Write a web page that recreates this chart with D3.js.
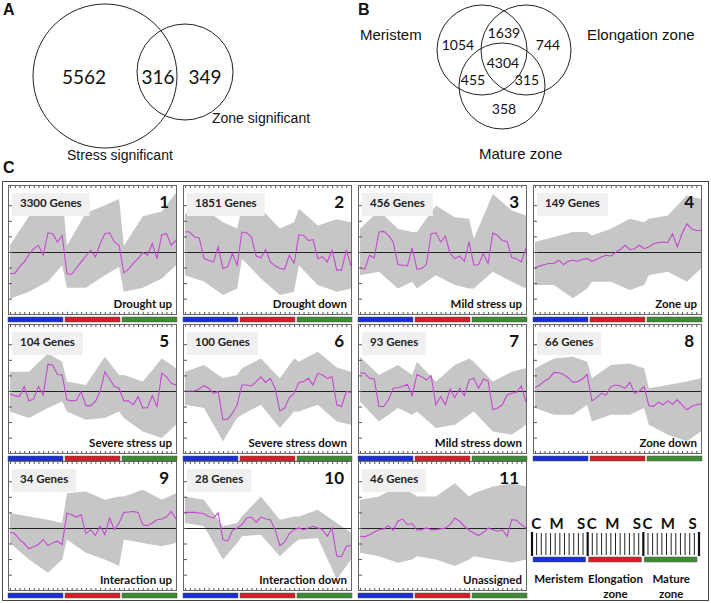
<!DOCTYPE html>
<html><head><meta charset="utf-8">
<script src="https://cdn.jsdelivr.net/npm/d3@7"></script>
<style>body{margin:0;background:#fff}</style>
</head><body>
<svg id="chart" width="711" height="603"></svg>
<script>
// ---------------- DATA ----------------
const vennAValues = [5562, 316, 349];
const vennALabels = ["Stress significant", "Zone significant"];
const vennBValues = {meristemOnly:1054, meriElong:1639, elongOnly:744, all:4304, meriMature:455, elongMature:315, matureOnly:358};
const vennBLabels = ["Meristem", "Elongation zone", "Mature zone"];

const panelNames = ["Drought up","Drought down","Mild stress up","Zone up","Severe stress up","Severe stress down","Mild stress down","Zone down","Interaction up","Interaction down","Unassigned"];
const geneCounts = [3300,1851,456,149,104,100,93,66,34,28,46];
const zones = ["Meristem","Elongation zone","Mature zone"];
const zoneColors = ["#1b2fd0","#d01f26","#3f8a35"];
const treatments = ["C","M","S"];
const samplesPerZone = 12;
const yTickValues = [-3,-2,-1,0,1,2,3];

// mean profile (magenta) of each cluster, 36 samples
const meanProfiles = [
 [-1.38,-1.38,-0.96,-0.64,-0.17,0.21,0.43,-0.21,1.23,1.17,0.64,1.06, -1.38,-1.43,-1.02,-0.64,-0.26,0.11,-0.32,0.53,1.17,1.23,0.64,0.43, -1.34,-1.1,-0.74,-0.43,-0.04,-0.21,0.53,-0.43,1.1,1.17,0.43,0.74],
 [1.3,1.28,0.96,0.9,-0.43,-0.53,-0.64,0.32,-1.06,-0.96,-0.1,-0.85, 1.28,1.23,0.96,-0.26,-0.38,0.15,-0.64,-0.89,-1.06,-1.1,-0.21,-0.74, 1.1,1.06,0.74,0.79,-0.43,-0.32,-0.64,0.11,-1.17,-1.17,0.11,-0.89],
 [-1.02,-1.1,-0.21,-0.38,1.28,1.32,1.06,0.64,-0.81,-0.85,-0.89,0.26, -1.1,-1.06,-0.81,1.17,1.23,0.64,1.02,-0.1,-0.43,-0.26,-0.6,0.64, -0.85,-0.81,-0.1,-0.74,1.23,1.06,0.74,0.68,-0.36,-0.43,-0.64,0.26],
 [-1.02,-0.91,-0.81,-0.74,-0.74,-0.53,-0.81,-0.6,-0.53,-0.6,-0.47,-0.43, -0.6,-0.49,-0.32,-0.21,-0.26,-0.04,0.17,0.43,0.15,0.21,0.43,0.21, 0.32,0.53,0.6,0.64,0.6,1.17,0.32,1.17,1.81,1.49,1.38,1.38],
 [-0.21,-0.3,-0.36,0.28,-0.64,-0.51,0.28,-0.26,1.72,1.66,1.06,1.02, -0.57,-0.64,-0.6,-0.04,-0.94,-0.94,-0.68,-0.04,1.23,0.77,0.28,0.17, -0.64,-0.64,-0.89,-0.36,-1.1,-1.06,-0.3,-1.0,1.13,0.91,0.49,0.38],
 [0,0,0,0.13,0.34,0.17,-0.15,-0.04,-1.85,-1.81,-1.43,-0.89, 0.38,0.38,0.32,0.6,0.91,0.55,0.81,0.17,-1.28,-1.1,-0.43,-0.15, 0.55,0.6,0.81,0.38,1.13,1.02,0.81,0.91,-0.89,-1.0,-0.04,-0.09],
 [1.17,1.13,0.81,0.77,-1.0,-1.0,-0.57,0.17,0.21,0.28,0.43,-0.3, 1.06,0.91,0.7,0.98,-0.89,-0.36,-0.89,0.13,-0.43,0.17,-0.3,0.7, 0.81,0.17,0.77,0.64,-1.21,-1.1,-0.89,-0.26,-0.15,-0.09,0.32,-0.72],
 [0.21,0.38,0.64,0.81,1.19,1.17,1.06,0.85,0.55,0.6,0.77,1.06, -0.64,-0.43,-0.15,-0.26,0.28,0.38,0.32,0.17,0.55,-0.15,0,0.28, -0.94,-1.0,-0.72,-0.89,-0.64,-0.85,-0.57,-0.89,-1.21,-1.0,-0.89,-0.83],
 [-0.28,-0.36,-0.74,-1.0,-1.34,-1.21,-1.06,-0.74,-1.13,-0.96,-0.85,-1.06, 0.96,0.85,0.7,0.85,-0.36,-0.11,-0.49,0.11,-0.43,0.64,-0.11,0.32, 1.0,1.02,1.06,1.0,0.21,0.15,0.32,0.53,0.57,0.7,1.06,0.57],
 [1.0,1.0,1.0,0.96,0.91,0.74,0.64,0.96,-0.74,-0.85,-0.15,0, 0.21,0.64,0.7,0.36,0.7,0.57,0.53,-0.11,-1.13,-0.91,-0.36,-0.11, 0,-0.11,0,0.11,0,-0.11,-0.53,0,-1.81,-1.85,-1.17,-1.13],
 [-0.53,-0.57,-0.43,-0.28,-0.11,-0.06,0.15,-0.15,0.43,0.57,0.21,0.28, -0.15,-0.11,0,-0.11,-0.11,-0.06,0,0.21,0.64,0.43,0.11,-0.15, -0.32,-0.49,-0.28,0,-0.11,-0.21,-0.11,-0.53,0.53,0.49,0.21,0]
];

// gray envelope of the member gene profiles, read at these sample indices
const envelopeIndex = [0,4,8,11,12,16,20,23,24,28,32,35];
const upperEnvelope = [
 [0.43,2.3,3.4,3.8,0.4,2.5,3.0,3.4,0.4,2.3,2.6,3.8],
 [2.45,2.77,1.9,1.5,2.87,2.77,1.5,1.9,2.77,1.7,2.1,1.9],
 [1.49,2.66,1.49,1.28,1.28,2.98,2.23,2.13,0.85,3.72,2.66,2.34],
 [0.64,0.96,1.28,1.28,1.06,1.49,2.13,1.91,2.13,2.34,3.62,3.4],
 [1.23,1.23,2.4,1.87,0.6,0.38,2.19,1.02,1.02,0.6,2.09,1.45],
 [1.23,1.66,0.81,1.02,1.45,2.09,0.81,2.09,1.87,2.51,1.5,1.23],
 [2.19,1.02,1.66,1.02,1.87,0.6,1.66,2.09,1.87,0.6,1.23,1.45],
 [1.45,2.09,2.19,1.87,0.81,1.66,1.77,1.45,0.17,0.38,0.6,0.81],
 [0.96,0.74,0.53,0.32,2.23,2.34,1.81,2.02,2.02,2.45,1.81,2.23],
 [2.02,1.81,0.11,0.32,0.74,2.02,0.53,0.74,0.74,1.17,0.32,-0.3],
 [1.81,2.02,2.66,2.23,2.02,2.02,2.87,2.02,2.23,2.66,2.87,2.66]
];
const lowerEnvelope = [
 [-3.0,-2.55,-1.9,-0.85,-2.3,-2.3,-1.5,-0.96,-2.55,-2.3,-1.7,-0.85],
 [-1.5,-1.9,-2.77,-2.34,-0.43,-1.7,-2.77,-2.55,-0.85,-2.13,-2.55,-2.34],
 [-1.49,-1.28,-2.34,-1.91,-2.34,-1.49,-2.13,-2.34,-2.34,-1.28,-1.91,-2.34],
 [-2.13,-2.13,-2.98,-2.34,-1.91,-1.91,-2.45,-2.13,-1.49,-1.28,-1.91,-1.06],
 [-1.32,-1.74,-1.1,-0.68,-1.32,-1.85,-1.74,-1.32,-1.74,-2.6,-3.02,-2.17],
 [-0.89,-1.1,-3.23,-1.74,-1.53,-0.89,-2.38,-1.32,-1.32,-0.89,-1.96,-2.17],
 [-0.68,-1.96,-1.1,-1.53,-1.32,-2.38,-2.17,-1.53,-1.32,-2.6,-2.81,-2.17],
 [-1.1,-1.53,-1.53,-0.89,-1.96,-1.53,-1.53,-1.1,-2.17,-2.81,-3.23,-2.6],
 [-0.96,-2.02,-2.87,-2.02,-0.74,-1.6,-2.02,-2.45,-0.74,-0.96,-1.17,-0.96],
 [0.32,0.11,-2.02,-0.96,-0.53,-0.43,-1.81,-0.96,-0.74,-0.64,-3.3,-2.02],
 [-1.6,-1.81,-2.23,-2.02,-1.81,-2.02,-2.45,-2.02,-1.81,-2.02,-2.23,-2.02]
];

// ---------------- DRAW ----------------
const svg = d3.select("#chart");
const sans = "'Liberation Sans', Arial, sans-serif";
const cal = "Lato, 'Open Sans', sans-serif";

// panel letters
[["A",3,15],["B",358,15],["C",3,173]].forEach(([t,x,y]) =>
  svg.append("text").attr("x",x).attr("y",y).text(t)
    .attr("font-family",sans).attr("font-weight","bold").attr("font-size",16).attr("fill","#111"));

// ---- Venn A
const vA = svg.append("g");
[[105,76,72],[185,72,48]].forEach(([cx,cy,r]) =>
  vA.append("circle").attr("cx",cx).attr("cy",cy).attr("r",r).attr("fill","none").attr("stroke","#222").attr("stroke-width",1));
[[84,vennAValues[0]],[158,vennAValues[1]],[205,vennAValues[2]]].forEach(([x,v]) =>
  vA.append("text").attr("x",x).attr("y",84).attr("text-anchor","middle").text(v)
    .attr("font-family",cal).attr("font-size",19).attr("fill","#111"));
vA.append("text").attr("x",67).attr("y",160).text(vennALabels[0]).attr("font-family",sans).attr("font-size",14).attr("fill","#111");
vA.append("text").attr("x",212).attr("y",123).text(vennALabels[1]).attr("font-family",sans).attr("font-size",14).attr("fill","#111");

// ---- Venn B
const vB = svg.append("g");
[[482,50,45],[526,50,45],[502,86,43]].forEach(([cx,cy,r]) =>
  vB.append("circle").attr("cx",cx).attr("cy",cy).attr("r",r).attr("fill","none").attr("stroke","#222").attr("stroke-width",1));
[[458,50,vennBValues.meristemOnly],[504,38,vennBValues.meriElong],[548,50,vennBValues.elongOnly],
 [503,68,vennBValues.all],[473,85,vennBValues.meriMature],[527,85,vennBValues.elongMature],[504,114,vennBValues.matureOnly]]
 .forEach(([x,y,v]) => vB.append("text").attr("x",x).attr("y",y).attr("text-anchor","middle").text(v)
   .attr("font-family",cal).attr("font-size",14).attr("fill","#111"));
vB.append("text").attr("x",360).attr("y",40).text(vennBLabels[0]).attr("font-family",sans).attr("font-size",15).attr("fill","#111");
vB.append("text").attr("x",587).attr("y",40).text(vennBLabels[1]).attr("font-family",sans).attr("font-size",15).attr("fill","#111");
vB.append("text").attr("x",479).attr("y",159).text(vennBLabels[2]).attr("font-family",sans).attr("font-size",15).attr("fill","#111");

// ---- Panel C frame
svg.append("rect").attr("x",2.5).attr("y",181.5).attr("width",706).attr("height",419)
  .attr("fill","none").attr("stroke","#444").attr("stroke-width",1);

const colLefts = [8,183,358,533], rowTops = [185,324,461], boxW = 169, boxH = 130;
const x = d3.scaleLinear().domain([0,35]).range([2,boxW-1]);
const y = d3.scaleLinear().domain([-4.05,4.3]).range([boxH,0]);
const zoneBand = d3.scaleBand().domain(zones).range([0,boxW]).paddingInner(0.035);

panelNames.forEach((name,k) => {
  const col = k % 4, row = Math.floor(k / 4);
  const g = svg.append("g").attr("transform",`translate(${colLefts[col]},${rowTops[row]})`);
  const clipId = "clip"+k;
  g.append("clipPath").attr("id",clipId).append("rect").attr("width",boxW).attr("height",boxH);
  const inner = g.append("g").attr("clip-path",`url(#${clipId})`);

  const env = envelopeIndex.map((idx,j) => ({i:idx,u:upperEnvelope[k][j],l:lowerEnvelope[k][j]}));
  inner.append("path").datum(env)
    .attr("d",d3.area().x(d=>x(d.i)).y0(d=>y(d.l)).y1(d=>y(d.u)))
    .attr("fill","#c6c6c6");
  const zy = Math.round(y(0)) + 0.5;
  inner.append("line").attr("x1",0).attr("x2",boxW).attr("y1",zy).attr("y2",zy)
    .attr("stroke","#222").attr("stroke-width",1);
  inner.append("path").datum(meanProfiles[k])
    .attr("d",d3.line().x((d,i)=>x(i)).y(d=>y(d)))
    .attr("fill","none").attr("stroke","#c548d2").attr("stroke-width",1.1);

  // ticks
  const tickStyle = sel => { sel.select(".domain").remove(); sel.selectAll("line").attr("stroke","#555"); };
  g.append("g").call(d3.axisTop(x).tickValues(d3.range(36)).tickSize(-3).tickFormat("")).call(tickStyle);
  g.append("g").attr("transform",`translate(0,${boxH})`).call(d3.axisBottom(x).tickValues(d3.range(36)).tickSize(-3).tickFormat("")).call(tickStyle);
  g.append("g").call(d3.axisLeft(y).tickValues(yTickValues).tickSize(-4).tickFormat("")).call(tickStyle);

  g.append("rect").attr("x",0.5).attr("y",0.5).attr("width",boxW-1).attr("height",boxH-1)
    .attr("fill","none").attr("stroke","#666").attr("stroke-width",1);

  // gene count box
  const gt = g.append("text").attr("x",12).attr("y",22).text(geneCounts[k]+" Genes")
    .attr("font-family",cal).attr("font-weight","bold").attr("font-size",11.5).attr("fill","#222");
  const tw = gt.node().getComputedTextLength();
  g.insert("rect",()=>gt.node()).attr("x",4).attr("y",8).attr("width",tw+16).attr("height",23).attr("fill","#f0f0f0");
  g.append("text").attr("x",boxW-8).attr("y",23).attr("text-anchor","end").text(k+1)
    .attr("font-family",cal).attr("font-weight","bold").attr("font-size",17).attr("fill","#111");
  g.append("text").attr("x",boxW-5).attr("y",123).attr("text-anchor","end").text(name)
    .attr("font-family",cal).attr("font-weight","bold").attr("font-size",11.5).attr("fill","#111");

  // zone bars
  zones.forEach((z,zi) => g.append("rect").attr("x",zoneBand(z)).attr("y",boxH+2).attr("width",zoneBand.bandwidth()).attr("height",5)
    .attr("fill",zoneColors[zi]).attr("stroke","#555").attr("stroke-width",0.5));
});

// ---- Legend (position 12)
const lg = svg.append("g").attr("transform","translate(532,0)");
const lw = 167;
const lx = d3.scaleLinear().domain([0,3]).range([0,lw]);
zones.forEach((z,zi) => {
  const zx = d3.scaleLinear().domain([0,samplesPerZone]).range([lx(zi),lx(zi+1)]);
  d3.range(samplesPerZone).forEach(i => {
    if (i===0) return;
    lg.append("line").attr("x1",zx(i)).attr("x2",zx(i)).attr("y1",533).attr("y2",555).attr("stroke","#222").attr("stroke-width",1);
  });
  lg.append("rect").attr("x",lx(zi)+1).attr("y",557).attr("width",lw/3-3).attr("height",5)
    .attr("fill",zoneColors[zi]).attr("stroke","#555").attr("stroke-width",0.5);
  const tx = [zx(0.9), zx(5.3), zx(10.6)];
  treatments.forEach((t,ti) => lg.append("text").attr("x",tx[ti]).attr("y",529).attr("text-anchor","middle").text(t)
    .attr("font-family",cal).attr("font-weight","bold").attr("font-size",15).attr("fill","#111"));
});
d3.range(4).forEach(i => lg.append("line").attr("x1",lx(i)).attr("x2",lx(i)).attr("y1",532).attr("y2",556).attr("stroke","#111").attr("stroke-width",2.2));
const legLabels = [[zones[0]],["Elongation","zone"],["Mature","zone"]];
legLabels.forEach((lines,zi) => lines.forEach((t,li) =>
  lg.append("text").attr("x",(lx(zi)+lx(zi+1))/2 + (zi===0?-1:0)).attr("y",583+li*15).attr("text-anchor","middle").text(t)
    .attr("font-family",cal).attr("font-weight","bold").attr("font-size",11.5).attr("fill","#111")));
</script>
</body></html>
